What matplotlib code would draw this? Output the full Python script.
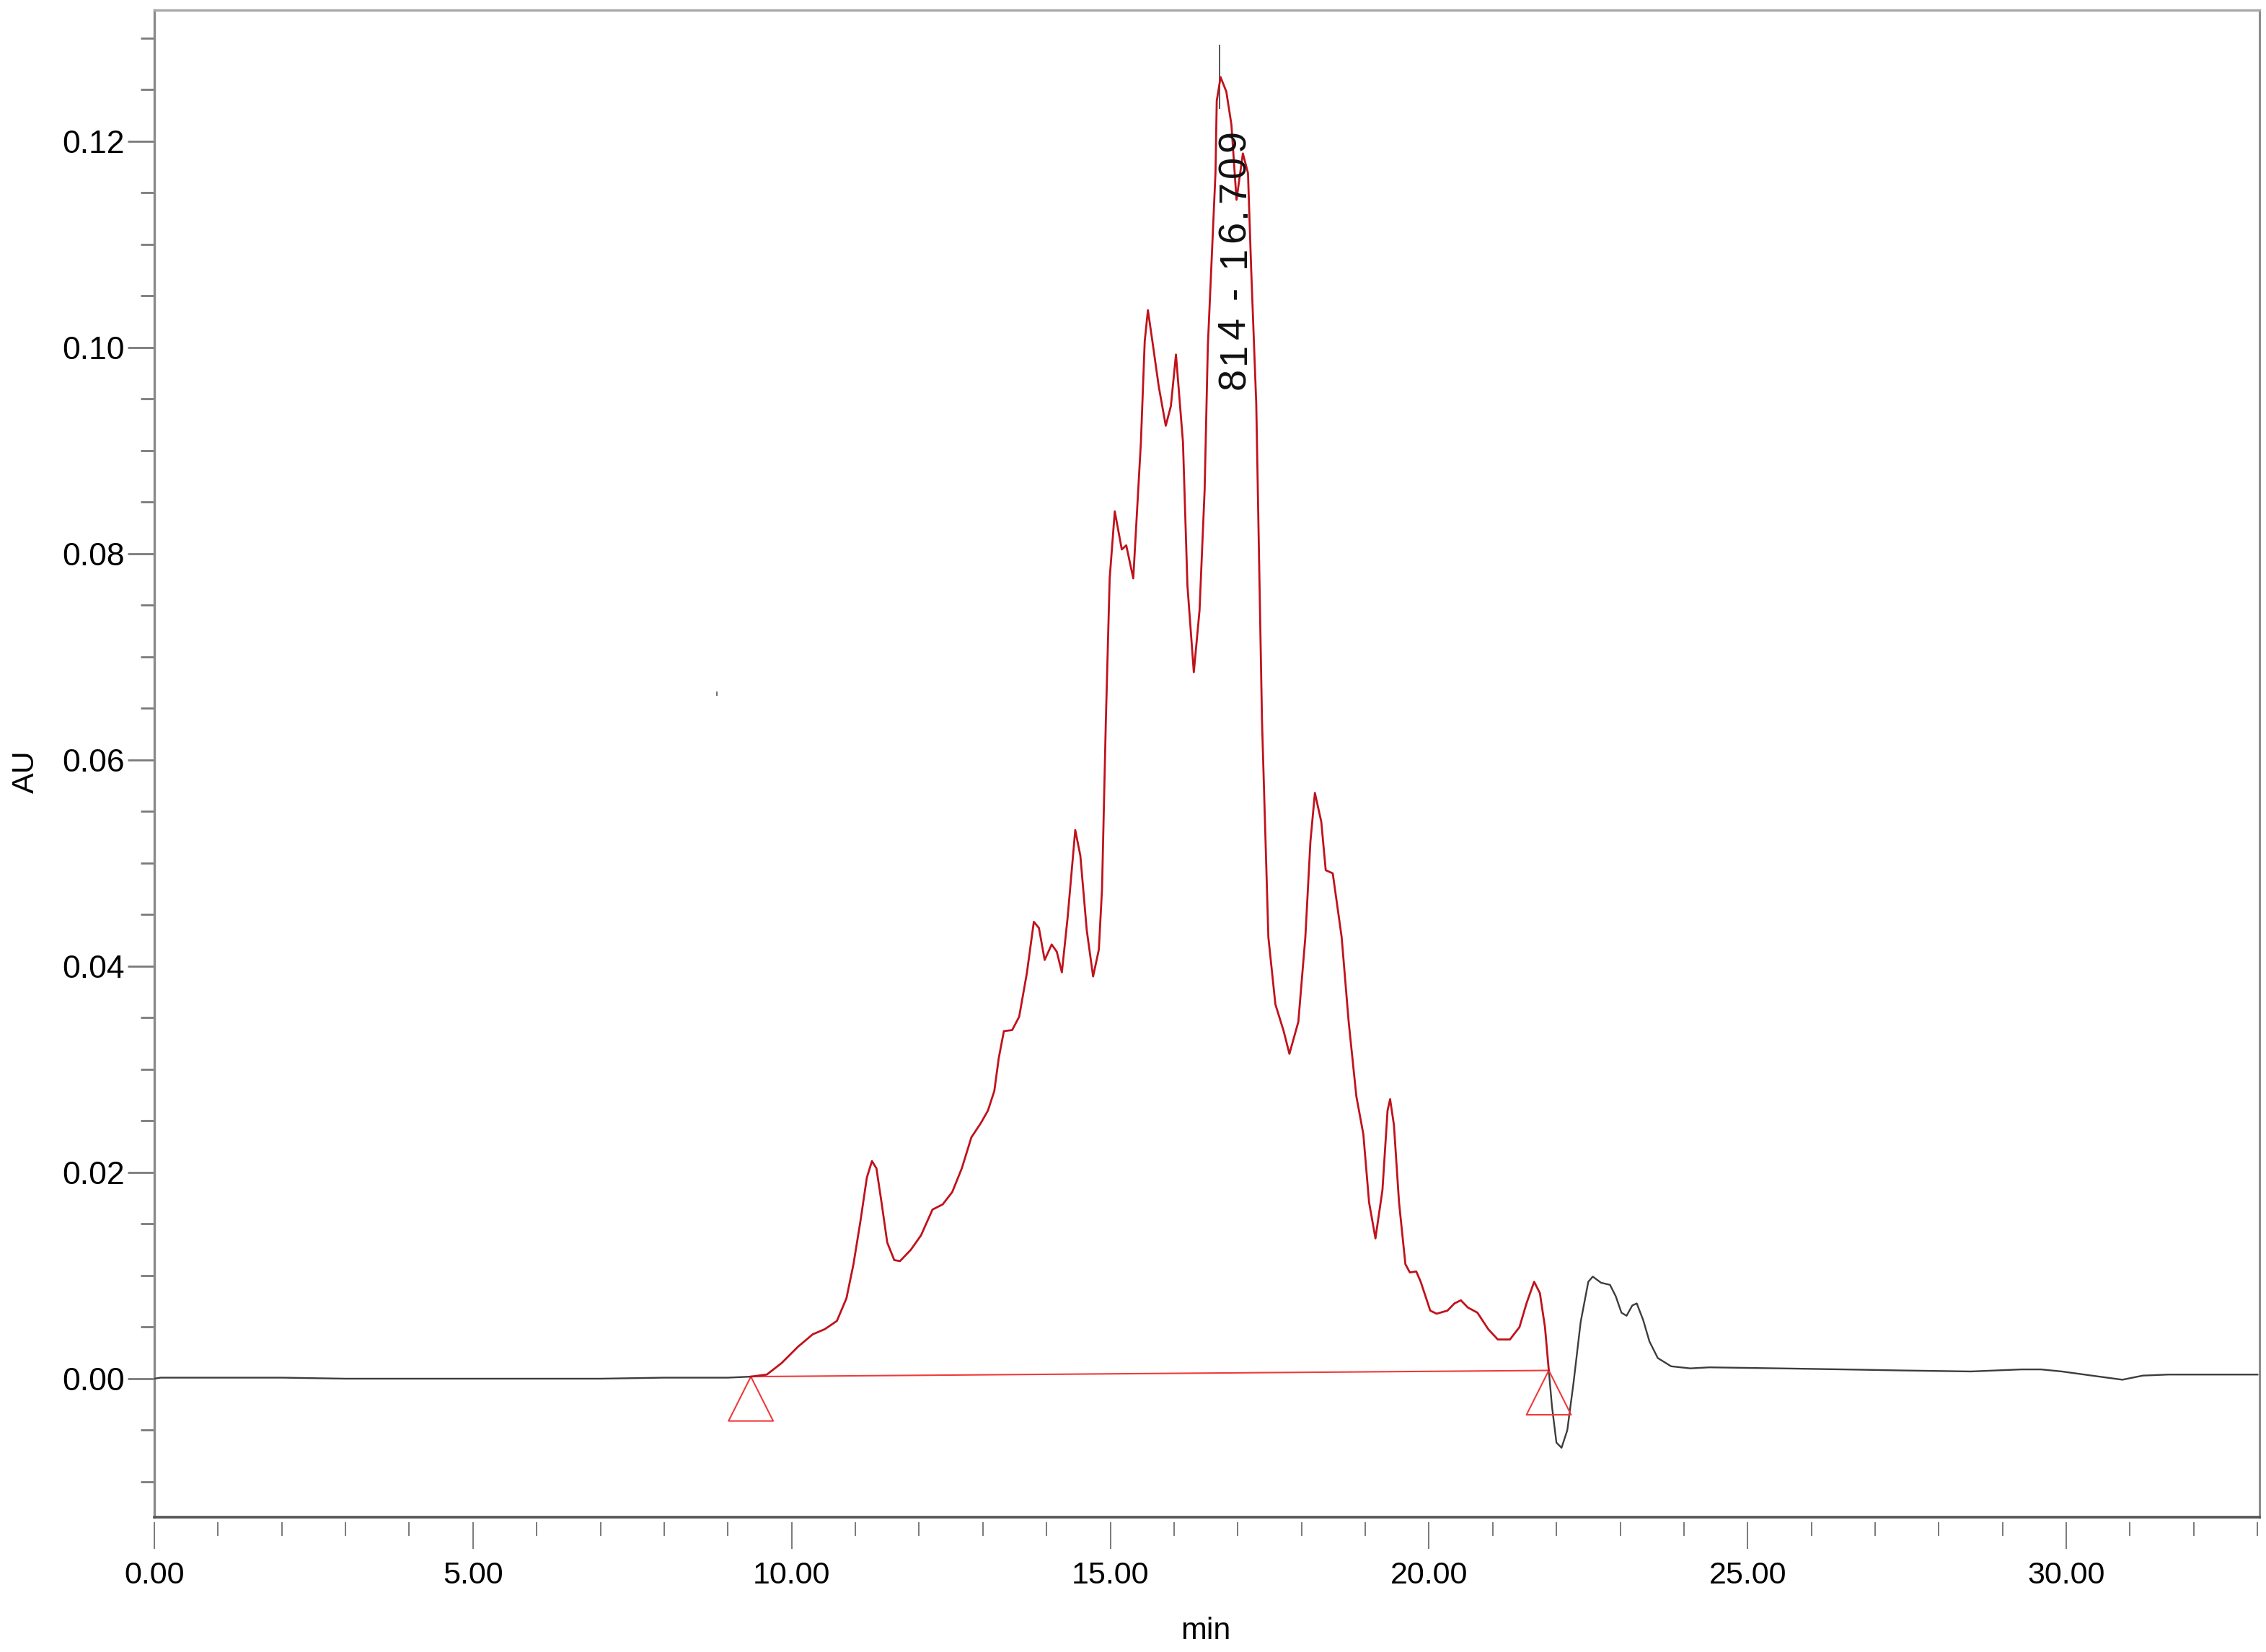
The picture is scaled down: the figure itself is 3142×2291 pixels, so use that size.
import matplotlib
matplotlib.use("Agg")
import matplotlib.pyplot as plt
from matplotlib.ticker import MultipleLocator, FormatStrFormatter
from matplotlib.transforms import offset_copy
from matplotlib.font_manager import FontProperties, findfont, get_font

plt.rcParams['font.family'] = ['Liberation Sans', 'DejaVu Sans']

# ---------------- data ----------------
# integrated region (red trace)
red_time = [9.36, 9.61, 9.84, 10.10, 10.33, 10.52, 10.71, 10.86, 10.97, 11.08,
            11.18, 11.26, 11.33, 11.41, 11.50, 11.61, 11.70, 11.87, 12.03, 12.21,
            12.37, 12.52, 12.67, 12.82, 12.97, 13.08, 13.18, 13.25, 13.33, 13.46,
            13.57, 13.69, 13.80, 13.88, 13.97, 14.08, 14.16, 14.24, 14.33, 14.45,
            14.53, 14.63, 14.73, 14.82, 14.87, 14.93, 14.99, 15.07, 15.18, 15.25,
            15.36, 15.48, 15.54, 15.59, 15.66, 15.76, 15.87, 15.95, 16.03, 16.14,
            16.21, 16.31, 16.40, 16.48, 16.53, 16.65, 16.67, 16.73, 16.82, 16.90,
            16.98, 17.08, 17.16, 17.21, 17.29, 17.38, 17.48, 17.59, 17.72, 17.81,
            17.95, 18.06, 18.14, 18.21, 18.31, 18.38, 18.49, 18.63, 18.74, 18.86,
            18.97, 19.06, 19.16, 19.27, 19.35, 19.39, 19.45, 19.53, 19.63, 19.70,
            19.80, 19.87, 20.02, 20.12, 20.29, 20.40, 20.50, 20.61, 20.76, 20.93,
            21.08, 21.27, 21.42, 21.53, 21.65, 21.74, 21.82, 21.88]
red_au = [0.0002, 0.0004, 0.0015, 0.0031, 0.0043, 0.0048, 0.0056, 0.0078, 0.0111, 0.0153,
          0.0195, 0.0211, 0.0204, 0.0171, 0.0132, 0.0115, 0.0114, 0.0125, 0.0139, 0.0164,
          0.0169, 0.0181, 0.0204, 0.0234, 0.0248, 0.0260, 0.0279, 0.0311, 0.0337, 0.0338,
          0.0351, 0.0393, 0.0443, 0.0437, 0.0406, 0.0421, 0.0414, 0.0394, 0.0447, 0.0532,
          0.0507, 0.0435, 0.0390, 0.0416, 0.0475, 0.0638, 0.0776, 0.0841, 0.0804, 0.0808,
          0.0776, 0.0908, 0.1006, 0.1036, 0.1006, 0.0962, 0.0924, 0.0943, 0.0993, 0.0908,
          0.0769, 0.0685, 0.0745, 0.0862, 0.1001, 0.1169, 0.1239, 0.1262, 0.1248, 0.1216,
          0.1143, 0.1188, 0.1169, 0.1076, 0.0945, 0.0638, 0.0428, 0.0363, 0.0337, 0.0315,
          0.0346, 0.0428, 0.0521, 0.0568, 0.0540, 0.0493, 0.0490, 0.0428, 0.0346, 0.0274,
          0.0237, 0.0171, 0.0136, 0.0183, 0.0260, 0.0271, 0.0246, 0.0171, 0.0111, 0.0103,
          0.0104, 0.0094, 0.0066, 0.0063, 0.0066, 0.0073, 0.0076, 0.0069, 0.0064, 0.0048,
          0.0038, 0.0038, 0.0050, 0.0073, 0.0094, 0.0083, 0.0050, 0.0008]

# raw trace before the integration window (dark)
pre_time = [0.00, 0.10, 1.0, 2.0, 3.0, 4.0, 5.0, 6.0, 7.0, 8.0, 9.0, 9.36]
pre_au = [0.0000, 0.0001, 0.0001, 0.0001, 0.0000, 0.0000, 0.0000, 0.0000, 0.0000, 0.0001, 0.0001, 0.0002]

# raw trace after the integration window (dark)
post_time = [21.88, 21.93, 22.00, 22.08, 22.17, 22.27, 22.38, 22.50, 22.57, 22.70,
             22.84, 22.93, 23.02, 23.10, 23.19, 23.26, 23.36, 23.46, 23.59, 23.80,
             24.10, 24.40, 25.5, 26.5, 27.4, 28.5, 29.3, 29.6, 29.93, 30.4,
             30.88, 31.2, 31.6, 33.0]
post_au = [0.0008, -0.0027, -0.0062, -0.0067, -0.0050, -0.0003, 0.0055, 0.0094, 0.0099, 0.0093,
           0.0091, 0.0080, 0.0064, 0.0061, 0.0071, 0.0073, 0.0057, 0.0036, 0.0020, 0.0012,
           0.0010, 0.0011, 0.0010, 0.0009, 0.0008, 0.0007, 0.0009, 0.0009, 0.0007, 0.0003,
           -0.0001, 0.0003, 0.0004, 0.0004]

# integration baseline and its start / end markers
base_time = [9.36, 21.88]
base_au = [0.0002, 0.0008]
marker_base_au = [-0.0041, -0.0035]
marker_halfwidth = 0.35

# peak annotation
peak_rt = 16.709
peak_tick_au = [0.1232, 0.1293]
peak_label = "814 - 16.709"

x_ticks = [0, 5, 10, 15, 20, 25, 30]
y_ticks = [0.00, 0.02, 0.04, 0.06, 0.08, 0.10, 0.12]

# ---------------- figure ----------------
fig = plt.figure(figsize=(31.42, 22.91), dpi=100)
ax = fig.add_axes([0.0681, 0.0816, 0.9290, 0.9123])
ax.set_xlim(0, 33.03)
ax.set_ylim(-0.01343, 0.1327)

# traces
ax.plot(pre_time, pre_au, color='#3c3c3c', lw=1.7, zorder=3)
ax.plot(post_time, post_au, color='#3c3c3c', lw=1.7, zorder=3)
ax.plot(red_time, red_au, color='#c0121c', lw=2.0, zorder=4)

# baseline + markers
ax.plot(base_time, base_au, color='#ee3a3a', lw=1.5, zorder=3)
for bx, by, bb in zip(base_time, base_au, marker_base_au):
    ax.plot([bx, bx - marker_halfwidth, bx + marker_halfwidth, bx],
            [by, bb, bb, by], color='#f0393c', lw=1.5, zorder=3)

# peak retention marker
ax.plot([peak_rt, peak_rt], peak_tick_au, color='#555555', lw=1.4, zorder=2)

# small stray tick present in the reference
ax.plot([8.83], [0.0664], marker='|', color='#555555', markersize=4, mew=1.2)

# peak label (rotated, letter-spaced)
fp = FontProperties(family=['Liberation Sans', 'DejaVu Sans'], size=39)
font = get_font(findfont(fp))
font.set_size(39, fig.dpi)
adv = []
for ch in peak_label:
    g = font.load_char(ord(ch))
    adv.append(g.linearHoriAdvance / 65536.0)
natural = sum(adv)
target = 360.0
track = (target - natural) / (len(peak_label) - 1)
off = 0.0
for ch, a in zip(peak_label, adv):
    tr = offset_copy(ax.transData, fig=fig, x=0, y=off, units='dots')
    ax.text(17.11, 0.0959, ch, rotation=90, rotation_mode='anchor',
            ha='left', va='baseline', transform=tr, fontproperties=fp,
            color='#111111', zorder=5)
    off += a + track

# ---------------- axes styling ----------------
ax.spines['top'].set_color('#a8a8a8')
ax.spines['top'].set_linewidth(2.4)
ax.spines['right'].set_color('#8c8c8c')
ax.spines['right'].set_linewidth(2.2)
ax.spines['left'].set_color('#8a8a8a')
ax.spines['left'].set_linewidth(2.4)
ax.spines['bottom'].set_position(('outward', 5))
ax.spines['bottom'].set_edgecolor('none')
ax.plot([0, 1], [0, 0], transform=ax.transAxes, color='#555555', lw=2.6,
        clip_on=False, zorder=6)

ax.set_xticks(x_ticks)
ax.xaxis.set_minor_locator(MultipleLocator(1))
ax.xaxis.set_major_formatter(FormatStrFormatter('%.2f'))
ax.set_yticks(y_ticks)
ax.yaxis.set_minor_locator(MultipleLocator(0.005))
ax.yaxis.set_major_formatter(FormatStrFormatter('%.2f'))

ax.tick_params(axis='x', which='major', length=26.6, width=1.4, color='#7a7a7a',
               pad=12, labelsize=31, direction='out')
ax.tick_params(axis='x', which='minor', length=13.7, width=1.4, color='#7a7a7a',
               direction='out')
ax.tick_params(axis='y', which='major', length=26.4, width=2.0, color='#7a7a7a',
               pad=3.5, labelsize=32, direction='out')
ax.tick_params(axis='y', which='minor', length=13.4, width=2.0, color='#7a7a7a',
               direction='out')

ax.set_xlabel('min', fontsize=31)
ax.set_ylabel('AU', fontsize=31)
ax.xaxis.label.set_va('center')
ax.yaxis.label.set_va('center')
ax.xaxis.set_label_coords(0.4995, -0.0756)
ax.yaxis.set_label_coords(-0.061, 0.4947)

fig.savefig('out.png', dpi=100, facecolor='white')
